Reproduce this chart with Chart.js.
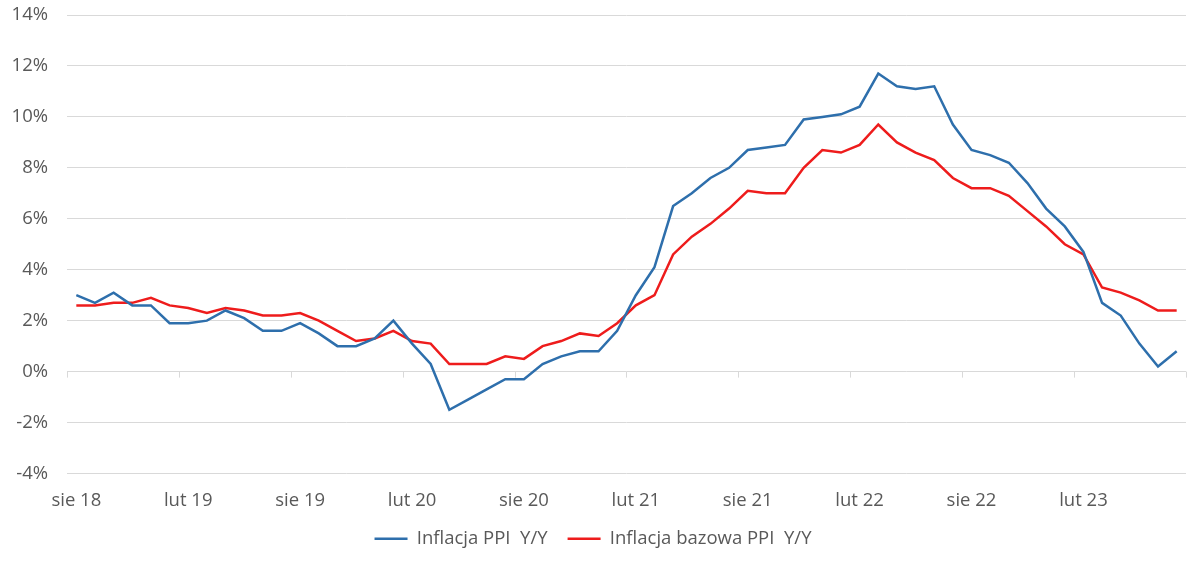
<!DOCTYPE html>
<html>
<head>
<meta charset="utf-8">
<script src="https://cdn.jsdelivr.net/npm/chart.js@4"></script>
<style>
    html, body { margin: 0; padding: 0; background: #ffffff; }
    .content { width: 1200px; height: 561px; position: relative; }
</style>
</head>
<body>
<div class="content"><canvas id="ppi-chart" width="1200" height="561"></canvas></div>
<script>
const monthNames = ['sty', 'lut', 'mar', 'kwi', 'maj', 'cze', 'lip', 'sie', 'wrz', 'paź', 'lis', 'gru']

// sie 18 .. lip 23, monthly
let monthLabels = []
for (let m = 7; m < 7 + 60; m++) {
    monthLabels.push(monthNames[m % 12] + ' ' + (18 + Math.floor(m / 12)))
}

const ppiValues = [
    3.0, 2.7, 3.1, 2.6, 2.6, 1.9, 1.9, 2.0, 2.4, 2.1,
    1.6, 1.6, 1.9, 1.5, 1.0, 1.0, 1.3, 2.0, 1.1, 0.3,
    -1.5, -1.1, -0.7, -0.3, -0.3, 0.3, 0.6, 0.8, 0.8, 1.6,
    3.0, 4.1, 6.5, 7.0, 7.6, 8.0, 8.7, 8.8, 8.9, 9.9,
    10.0, 10.1, 10.4, 11.7, 11.2, 11.1, 11.2, 9.7, 8.7, 8.5,
    8.2, 7.4, 6.4, 5.7, 4.7, 2.7, 2.2, 1.1, 0.2, 0.8
]

const corePpiValues = [
    2.6, 2.6, 2.7, 2.7, 2.9, 2.6, 2.5, 2.3, 2.5, 2.4,
    2.2, 2.2, 2.3, 2.0, 1.6, 1.2, 1.3, 1.6, 1.2, 1.1,
    0.3, 0.3, 0.3, 0.6, 0.5, 1.0, 1.2, 1.5, 1.4, 1.9,
    2.6, 3.0, 4.6, 5.3, 5.8, 6.4, 7.1, 7.0, 7.0, 8.0,
    8.7, 8.6, 8.9, 9.7, 9.0, 8.6, 8.3, 7.6, 7.2, 7.2,
    6.9, 6.3, 5.7, 5.0, 4.6, 3.3, 3.1, 2.8, 2.4, 2.4
]

const seriesNames = ['Inflacja PPI  Y/Y', 'Inflacja bazowa PPI  Y/Y']
const yTicks = [-4, -2, 0, 2, 4, 6, 8, 10, 12, 14]

const textColor = '#595959'
const gridColor = '#d9d9d9'
const fontFamily = "'Open Sans', 'Noto Sans', sans-serif"
const fontSize = 18.5

// small tick marks on the 0% line, every 6 months (excel style)
const zeroAxisTicks = {
    id: 'zeroAxisTicks',
    afterDatasetsDraw(chart) {
        const {ctx, scales: {x, y}} = chart
        const yZero = y.getPixelForValue(0)
        const step = x.getPixelForValue(1) - x.getPixelForValue(0)
        ctx.save()
        ctx.strokeStyle = gridColor
        ctx.lineWidth = 1
        for (let i = 0; i <= monthLabels.length; i += 6) {
            const px = Math.round(x.getPixelForValue(i) - step / 2) + 0.5
            ctx.beginPath()
            ctx.moveTo(px, yZero)
            ctx.lineTo(px, yZero + 6)
            ctx.stroke()
        }
        ctx.restore()
    }
}

const ppiChartConfig = {
    type: 'line',
    data: {
        labels: monthLabels,
        datasets: [{
            label: seriesNames[0],
            data: ppiValues,
            borderColor: '#2e6fac',
            backgroundColor: '#2e6fac',
            borderWidth: 2.5,
            pointRadius: 0,
            tension: 0
        }, {
            label: seriesNames[1],
            data: corePpiValues,
            borderColor: '#ee1c1c',
            backgroundColor: '#ee1c1c',
            borderWidth: 2.5,
            pointRadius: 0,
            tension: 0
        }]
    },
    options: {
        responsive: false,
        animation: false,
        layout: {
            padding: {top: 15, right: 14, left: 0, bottom: 3}
        },
        plugins: {
            legend: {
                position: 'bottom',
                labels: {
                    usePointStyle: true,
                    pointStyle: 'line',
                    pointStyleWidth: 33,
                    padding: 20,
                    color: textColor,
                    font: {family: fontFamily, size: fontSize}
                }
            },
            tooltip: {enabled: false}
        },
        scales: {
            x: {
                offset: true,
                grid: {display: false, drawTicks: false},
                border: {display: false},
                afterFit: (scale) => {
                    scale.height = 36
                },
                ticks: {
                    autoSkip: false,
                    maxRotation: 0,
                    padding: 16,
                    color: textColor,
                    font: {family: fontFamily, size: fontSize},
                    callback: function (value, index) {
                        return index % 6 === 0 ? monthLabels[index] : ''
                    }
                }
            },
            y: {
                min: yTicks[0],
                max: yTicks[yTicks.length - 1],
                afterBuildTicks: (scale) => {
                    scale.ticks = yTicks.map(v => ({value: v}))
                },
                afterFit: (scale) => {
                    scale.width = 67
                    scale.paddingTop = 0
                    scale.paddingBottom = 0
                },
                grid: {color: gridColor, lineWidth: 1, drawTicks: false},
                border: {display: false},
                ticks: {
                    padding: 19,
                    color: textColor,
                    font: {family: fontFamily, size: fontSize},
                    callback: (value) => value + '%'
                }
            }
        }
    },
    plugins: [zeroAxisTicks]
}

const ppiChart = new Chart(
    document.getElementById('ppi-chart'),
    ppiChartConfig
)
</script>
</body>
</html>
